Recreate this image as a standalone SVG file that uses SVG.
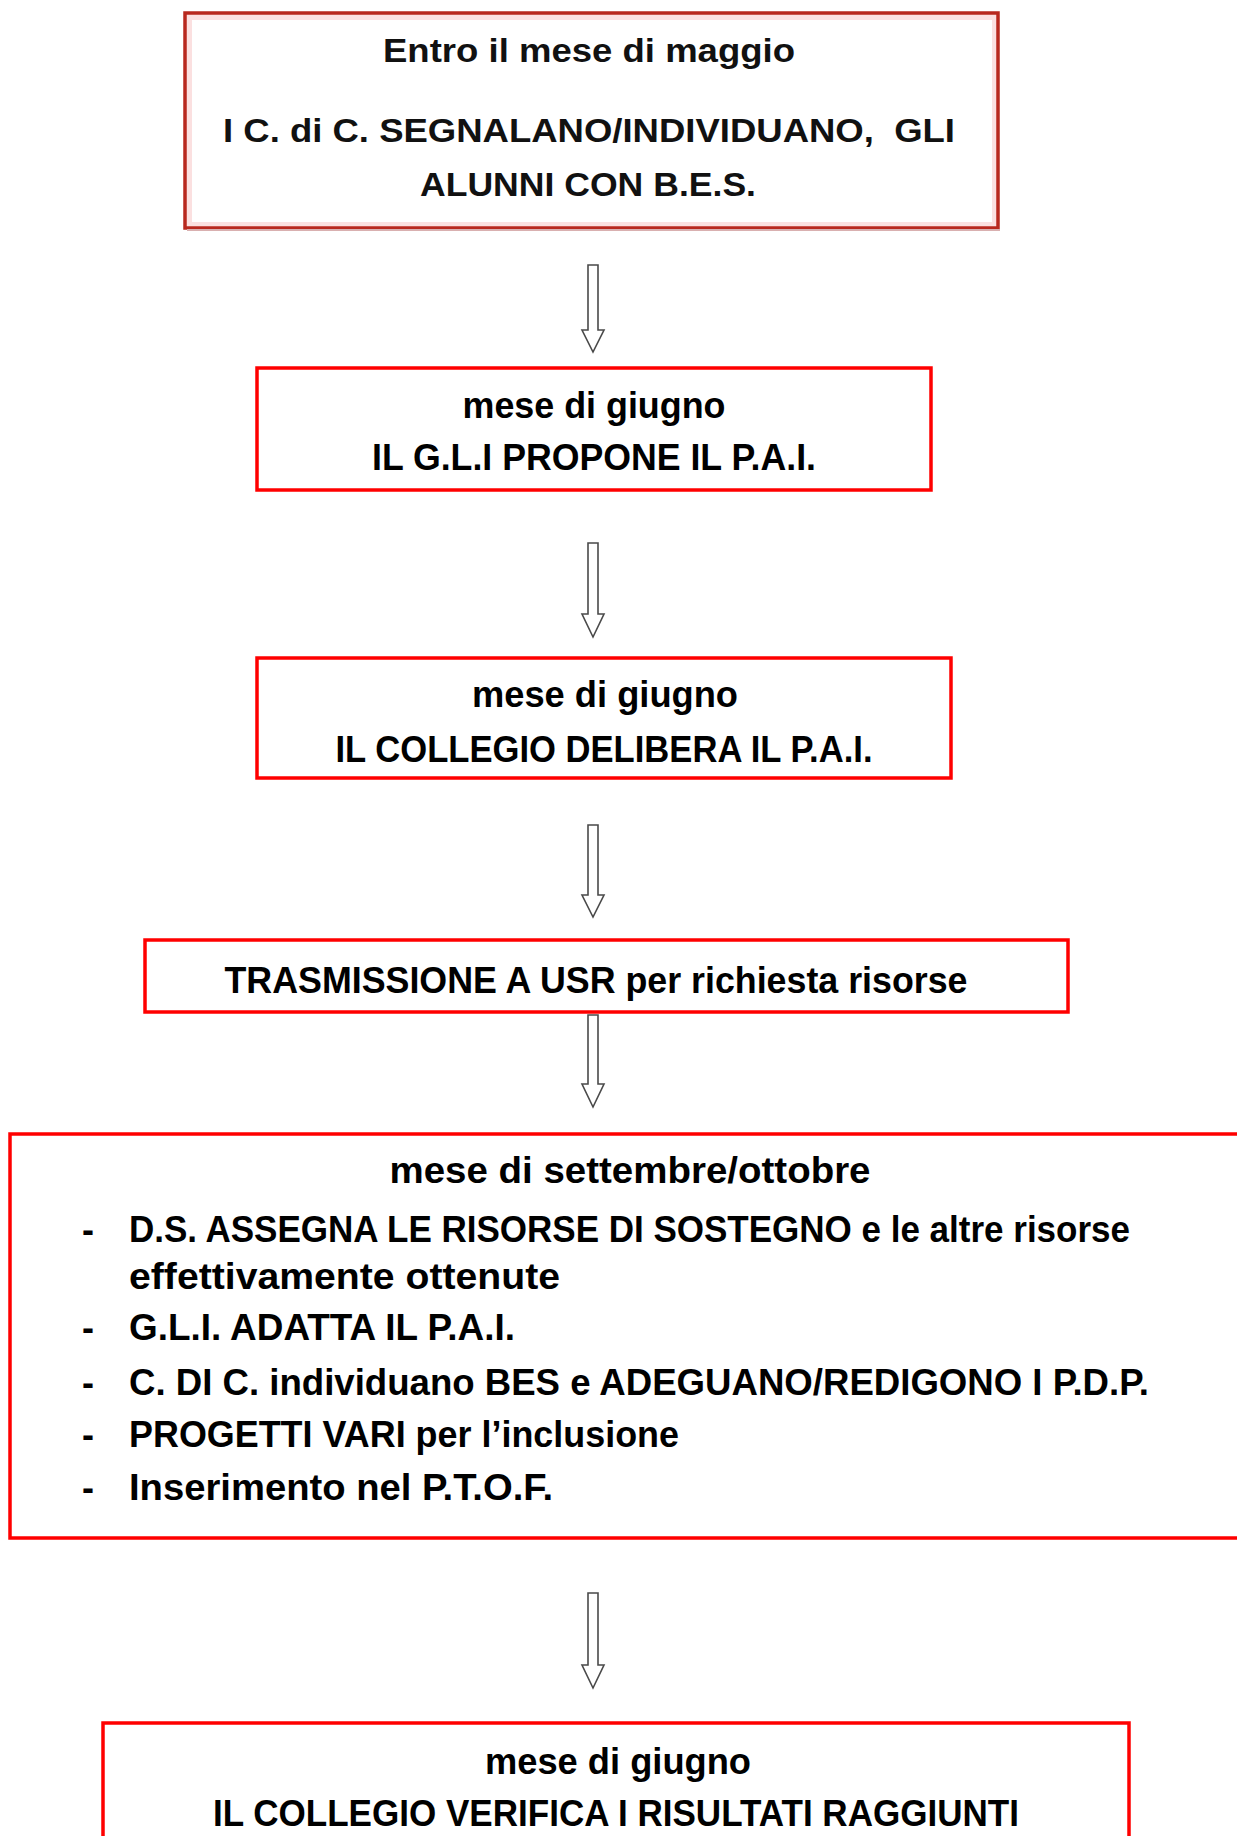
<svg xmlns="http://www.w3.org/2000/svg" width="1237" height="1836" viewBox="0 0 1237 1836">
<style>
.box{fill:#ffffff;stroke:#ff0000;stroke-width:3.5}
.t{font-family:"Liberation Sans",Arial,sans-serif;font-weight:bold;font-size:36px;fill:#000000}
.t1{font-family:"Liberation Sans",Arial,sans-serif;font-weight:bold;font-size:33px;fill:#111111}
.arr{fill:#ffffff;stroke:#4a4a4a;stroke-width:1.6;stroke-linejoin:miter}
</style>
<rect x="0" y="0" width="1237" height="1836" fill="#ffffff"/>
<g id="connectors">
<path class="arr" d="M588 265 H598 V330 H604 L593 352 L582 330 H588 Z"/>
<path class="arr" d="M588 543 H598 V614 H604 L593 637 L582 614 H588 Z"/>
<path class="arr" d="M588 825 H598 V895 H604 L593 917 L582 895 H588 Z"/>
<path class="arr" d="M588 1015 H598 V1084 H604 L593 1107 L582 1084 H588 Z"/>
<path class="arr" d="M588 1593 H598 V1665 H604 L593 1688 L582 1665 H588 Z"/>
</g>
<g id="node1">
<rect x="189" y="17" width="806" height="208" fill="none" stroke="#fbe0e0" stroke-width="6"/>
<rect x="185" y="13" width="813" height="215" fill="none" stroke="#b8281e" stroke-width="3.5"/>
<line x1="187" y1="230" x2="1000" y2="230" stroke="#d9b0b0" stroke-width="2"/>
<text class="t1" x="589" y="62" text-anchor="middle" textLength="412" lengthAdjust="spacingAndGlyphs">Entro il mese di maggio</text>
<text class="t1" x="589" y="142" text-anchor="middle" textLength="732" lengthAdjust="spacingAndGlyphs" xml:space="preserve">I C. di C. SEGNALANO/INDIVIDUANO,  GLI</text>
<text class="t1" x="588" y="196" text-anchor="middle" textLength="336" lengthAdjust="spacingAndGlyphs">ALUNNI CON B.E.S.</text>
</g>
<g id="node2">
<rect class="box" x="257" y="368" width="674" height="122"/>
<text class="t" x="594" y="418" text-anchor="middle" textLength="263" lengthAdjust="spacingAndGlyphs">mese di giugno</text>
<text class="t" x="594" y="470" text-anchor="middle" textLength="444" lengthAdjust="spacingAndGlyphs">IL G.L.I PROPONE IL P.A.I.</text>
</g>
<g id="node3">
<rect class="box" x="257" y="658" width="694" height="120"/>
<text class="t" x="605" y="707" text-anchor="middle" textLength="266" lengthAdjust="spacingAndGlyphs">mese di giugno</text>
<text class="t" x="604" y="762" text-anchor="middle" textLength="537" lengthAdjust="spacingAndGlyphs">IL COLLEGIO DELIBERA IL P.A.I.</text>
</g>
<g id="node4">
<rect class="box" x="145" y="940" width="923" height="72"/>
<text class="t" x="596" y="993" text-anchor="middle" textLength="743" lengthAdjust="spacingAndGlyphs">TRASMISSIONE A USR per richiesta risorse</text>
</g>
<g id="node5">
<rect class="box" x="10" y="1134" width="1250" height="404"/>
<text class="t" x="630" y="1183" text-anchor="middle" textLength="481" lengthAdjust="spacingAndGlyphs">mese di settembre/ottobre</text>
<g class="t">
<text x="82" y="1242">-</text>
<text x="129" y="1242" textLength="1001" lengthAdjust="spacingAndGlyphs">D.S. ASSEGNA LE RISORSE DI SOSTEGNO e le altre risorse</text>
<text x="129" y="1289" textLength="431" lengthAdjust="spacingAndGlyphs">effettivamente ottenute</text>
<text x="82" y="1340">-</text>
<text x="129" y="1340" textLength="386" lengthAdjust="spacingAndGlyphs">G.L.I. ADATTA IL P.A.I.</text>
<text x="82" y="1395">-</text>
<text x="129" y="1395" textLength="1020" lengthAdjust="spacingAndGlyphs">C. DI C. individuano BES e ADEGUANO/REDIGONO I P.D.P.</text>
<text x="82" y="1447">-</text>
<text x="129" y="1447" textLength="550" lengthAdjust="spacingAndGlyphs">PROGETTI VARI per l’inclusione</text>
<text x="82" y="1500">-</text>
<text x="129" y="1500" textLength="424" lengthAdjust="spacingAndGlyphs">Inserimento nel P.T.O.F.</text>
</g>
</g>
<g id="node6">
<rect class="box" x="103" y="1723" width="1026" height="140"/>
<text class="t" x="618" y="1774" text-anchor="middle" textLength="266" lengthAdjust="spacingAndGlyphs">mese di giugno</text>
<text class="t" x="616" y="1826" text-anchor="middle" textLength="806" lengthAdjust="spacingAndGlyphs">IL COLLEGIO VERIFICA I RISULTATI RAGGIUNTI</text>
</g>
</svg>
